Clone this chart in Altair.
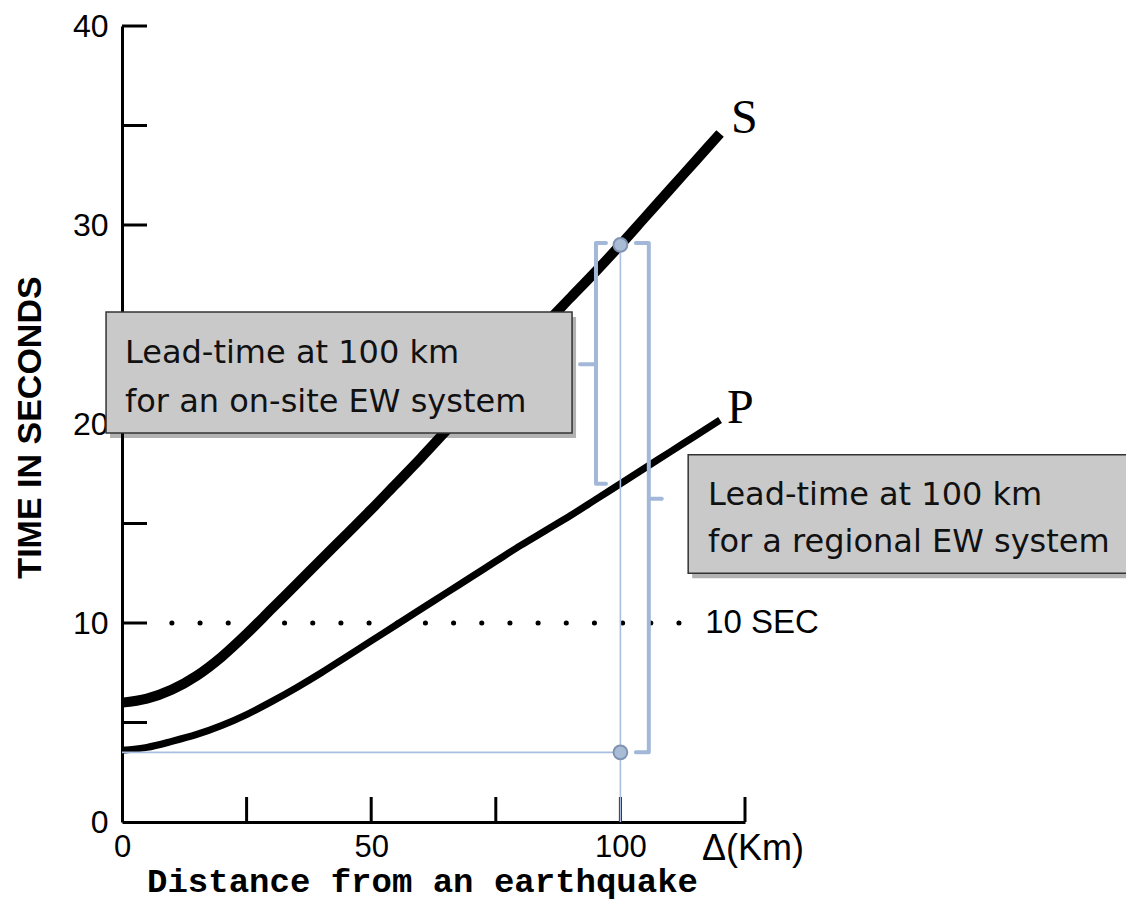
import altair as alt
import pandas as pd

# ---------------- data ----------------
distance_km = [0, 5, 10, 15, 20, 25, 30, 35, 40, 45, 50, 55, 60,
               65, 70, 75, 80, 85, 90, 95, 100, 105, 110, 115, 120]
s_wave_s = [6.0, 6.2, 6.65, 7.35, 8.3, 9.45, 10.7, 11.95, 13.2, 14.45, 15.7, 17.0, 18.3,
            19.65, 21.0, 22.35, 23.7, 25.05, 26.35, 27.65, 29.0, 30.4, 31.8, 33.2, 34.6]
p_wave_s = [3.6, 3.75, 4.05, 4.4, 4.85, 5.4, 6.05, 6.75, 7.5, 8.3, 9.1, 9.9, 10.7,
            11.5, 12.3, 13.1, 13.9, 14.65, 15.4, 16.2, 17.0, 17.8, 18.6, 19.4, 20.2]

x_tick_values = [25, 50, 75, 100, 125]
y_tick_values = [5, 10, 15, 20, 25, 30, 35, 40]
x_label_values = [0, 50, 100]
y_label_values = [0, 10, 20, 30, 40]

mark_km = 100          # station distance
s_at_mark = 29.0       # S arrival at 100 km
p_at_mark = 17.0       # P arrival at 100 km
origin_level = 3.5     # start level (P at the source)
ref_level = 10         # "10 SEC" reference
dots_from, dots_to = 10, 112

box_texts = ["Lead-time at 100 km", "for an on-site EW system",
             "Lead-time at 100 km", "for a regional EW system"]

# ---------------- styling ----------------
BLUE_LINE = "#a9bfe0"
BLUE_BRACKET = "#a3b8d8"
XDOM = [0, 125]
YDOM = [0, 40]
W, H = 623, 796

xscale = alt.Scale(domain=XDOM, nice=False, zero=False)
yscale = alt.Scale(domain=YDOM, nice=False, zero=False)

xaxis = alt.Axis(values=x_label_values, title="Distance from an earthquake",
                 domain=True, domainColor="black", domainWidth=3, ticks=False, tickSize=0,
                 grid=False, labelFont="Liberation Sans", labelFontSize=31, labelColor="black",
                 labelPadding=10, labelFlush=False, labelOverlap=False,
                 titleFont="Liberation Mono", titleFontWeight="bold", titleFontSize=34,
                 titleColor="black", titleX=300, titleY=69, titleAlign="center",
                 titleBaseline="alphabetic", titleAnchor="start")
yaxis = alt.Axis(values=y_label_values, title="TIME  IN  SECONDS",
                 domain=True, domainColor="black", domainWidth=3, ticks=False, tickSize=0,
                 grid=False, labelFont="Liberation Sans", labelFontSize=32, labelColor="black",
                 labelPadding=14, labelFlush=False, labelOverlap=False,
                 titleFont="Liberation Sans", titleFontWeight="bold", titleFontSize=34,
                 titleColor="black", titleAngle=270, titleX=-92, titleY=401,
                 titleAlign="center", titleBaseline="middle", titleAnchor="start")


def X(field="x"):
    return alt.X(f"{field}:Q", scale=xscale, axis=xaxis)


def Y(field="y"):
    return alt.Y(f"{field}:Q", scale=yscale, axis=yaxis)


# ---------------- tables ----------------
s_df = pd.DataFrame({"x": distance_km, "y": s_wave_s})
p_df = pd.DataFrame({"x": distance_km, "y": p_wave_s})
xt_df = pd.DataFrame({"x": x_tick_values, "y": [0] * len(x_tick_values)})
yt_df = pd.DataFrame({"y": y_tick_values, "x": [0] * len(y_tick_values)})
dots_df = pd.DataFrame({"x": [dots_from], "x2": [dots_to], "y": [ref_level], "y2": [ref_level]})

guide_df = pd.DataFrame({
    "x": [0, mark_km], "x2": [mark_km, mark_km],
    "y": [origin_level, 0], "y2": [origin_level, s_at_mark]})
pts_df = pd.DataFrame({"x": [mark_km, mark_km], "y": [s_at_mark, origin_level]})

# brackets (path points)
lb_x = mark_km - 4.9
rb_x = mark_km + 5.7
lb_mid = (s_at_mark + p_at_mark) / 2
rb_mid = (s_at_mark + origin_level) / 2
br_rows = [
    ("L", 0, lb_x + 2.0, s_at_mark + 0.1), ("L", 1, lb_x, s_at_mark + 0.1),
    ("L", 2, lb_x, lb_mid), ("L", 3, lb_x - 3.2, lb_mid), ("L", 4, lb_x, lb_mid),
    ("L", 5, lb_x, p_at_mark), ("L", 6, lb_x + 2.0, p_at_mark),
    ("R", 0, rb_x - 2.6, s_at_mark + 0.1), ("R", 1, rb_x, s_at_mark + 0.1),
    ("R", 2, rb_x, rb_mid), ("R", 3, rb_x + 2.6, rb_mid), ("R", 4, rb_x, rb_mid),
    ("R", 5, rb_x, origin_level), ("R", 6, rb_x - 2.6, origin_level),
]
br_df = pd.DataFrame(br_rows, columns=["b", "o", "x", "y"])

boxes_df = pd.DataFrame({
    "x": [-3.2, 113.6], "x2": [90.3, 210.0],
    "y": [19.55, 12.5], "y2": [25.63, 18.45]})
btext_df = pd.DataFrame({
    "t": box_texts,
    "x": [0.6, 0.6, 117.6, 117.6],
    "y": [23.07, 20.6, 15.93, 13.57]})

wave_lbl_df = pd.DataFrame({"t": ["S", "P"], "x": [122.2, 121.4], "y": [34.6, 20.05]})
sec_df = pd.DataFrame({"t": ["10  SEC"], "x": [117.0], "y": [ref_level]})
unit_df = pd.DataFrame({"t": ["\u0394(Km)"], "x": [125], "y": [0]})

# ---------------- layers ----------------
xticks = alt.Chart(xt_df).mark_rule(color="black", strokeWidth=3).encode(
    x=X(), y=Y(), y2=alt.value(H - 25))
yticks = alt.Chart(yt_df).mark_rule(color="black", strokeWidth=3).encode(
    y=Y(), x=alt.value(0), x2=alt.value(25))

dots = alt.Chart(dots_df).mark_rule(color="black", strokeWidth=5, strokeCap="round",
                                    strokeDash=[0.1, 28.07]).encode(
    x=X(), x2="x2:Q", y=Y(), y2="y2:Q")

s_line = alt.Chart(s_df).mark_line(color="black", strokeWidth=10, interpolate="monotone",
                                   strokeCap="butt").encode(x=X(), y=Y())
p_line = alt.Chart(p_df).mark_line(color="black", strokeWidth=7, interpolate="monotone",
                                   strokeCap="butt").encode(x=X(), y=Y())

shadow = alt.Chart(boxes_df).mark_rect(color="black", opacity=0.3, xOffset=4, x2Offset=4,
                                       yOffset=5, y2Offset=5).encode(
    x=X(), x2="x2:Q", y=Y(), y2="y2:Q")
boxes = alt.Chart(boxes_df).mark_rect(fill="#c9c9c9", stroke="#333333", strokeWidth=1.5).encode(
    x=X(), x2="x2:Q", y=Y(), y2="y2:Q")
btext = alt.Chart(btext_df).mark_text(font="DejaVu Sans", fontSize=32, align="left",
                                      baseline="alphabetic", color="#111111").encode(
    x=X(), y=Y(), text="t:N")

guides = alt.Chart(guide_df).mark_rule(color=BLUE_LINE, strokeWidth=1.6).encode(
    x=X(), x2="x2:Q", y=Y(), y2="y2:Q")
brackets = alt.Chart(br_df).mark_line(color=BLUE_BRACKET, strokeWidth=4, strokeJoin="round",
                                      strokeCap="round").encode(
    x=X(), y=Y(), detail="b:N", order="o:Q")
pts = alt.Chart(pts_df).mark_circle(size=190, color="#a9bcd6", opacity=1, stroke="#8093b2",
                                    strokeWidth=2).encode(x=X(), y=Y())

wave_lbl = alt.Chart(wave_lbl_df).mark_text(font="Liberation Serif", fontSize=48, align="left",
                                            baseline="alphabetic", color="black").encode(
    x=X(), y=Y(), text="t:N")
sec_lbl = alt.Chart(sec_df).mark_text(font="Liberation Sans", fontSize=33, align="left",
                                      baseline="middle", color="black").encode(
    x=X(), y=Y(), text="t:N")
unit_lbl = alt.Chart(unit_df).mark_text(font="Liberation Sans", fontSize=36, align="left",
                                        baseline="top", dx=-43, dy=10, color="black").encode(
    x=X(), y=Y(), text="t:N")

chart = alt.layer(
    xticks, yticks, dots, s_line, p_line, shadow, boxes, btext,
    guides, brackets, pts, wave_lbl, sec_lbl, unit_lbl
).properties(
    width=W, height=H,
    padding={"left": 114, "top": 18, "right": 381, "bottom": 78},
    autosize=alt.AutoSizeParams(type="none"),
).configure_view(stroke=None, strokeWidth=0)

chart.save("out.html", embed_options={"renderer": "svg", "actions": False})
